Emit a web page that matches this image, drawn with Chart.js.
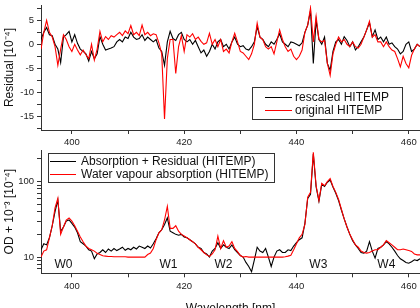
<!DOCTYPE html>
<html>
<head>
<meta charset="utf-8">
<script src="https://cdn.jsdelivr.net/npm/chart.js@4.4.1/dist/chart.umd.min.js"></script>
<style>
  html, body { margin: 0; padding: 0; background: #fff; overflow: hidden; width: 420px; height: 308px; }
  canvas { position: absolute; left: 0; }
  #residualChart { top: 0; }
  #odChart { top: 150px; }
</style>
</head>
<body>
<canvas id="residualChart" width="420" height="150"></canvas>
<canvas id="odChart" width="420" height="170"></canvas>
<script>
// Wavelength grid [nm]
const wavelength = [
  394.5, 395, 395.5, 396, 396.5, 397, 397.5, 398, 398.5, 399,
  399.5, 400, 400.5, 401, 401.5, 402, 402.5, 403, 403.5, 404,
  404.5, 405, 405.5, 406, 406.5, 407, 407.5, 408, 408.5, 409,
  409.5, 410, 410.5, 411, 411.5, 412, 412.5, 413, 413.5, 414,
  414.5, 415, 415.5, 416, 416.5, 417, 417.5, 418, 418.5, 419,
  419.5, 420, 420.5, 421, 421.5, 422, 422.5, 423, 423.5, 424,
  424.5, 425, 425.5, 426, 426.5, 427, 427.5, 428, 428.5, 429,
  429.5, 430, 430.5, 431, 431.5, 432, 432.5, 433, 433.5, 434,
  434.5, 435, 435.5, 436, 436.5, 437, 437.5, 438, 438.5, 439,
  439.5, 440, 440.5, 441, 441.5, 442, 442.5, 443, 443.5, 444,
  444.5, 445, 445.5, 446, 446.5, 447, 447.5, 448, 448.5, 449,
  449.5, 450, 450.5, 451, 451.5, 452, 452.5, 453, 453.5, 454,
  454.5, 455, 455.5, 456, 456.5, 457, 457.5, 458, 458.5, 459,
  459.5, 460, 460.5, 461, 461.5, 462
];

// Residual [1e-4]
const residualRescaled = [
  1.0, 2.5, 3.5, 2.0, 1.8, 0.0, -1.0, -3.8, 1.5, 2.0,
  2.7, 0.5, 2.0, 0.2, -1.0, -1.5, -2.0, -3.5, -1.5, -3.0,
  -2.0, 1.6, 0.0, -1.2, -1.0, -0.8, -0.5, 0.5, 1.0, 0.5,
  1.5, 1.2, 2.5, 1.5, 1.0, 1.2, 2.0, 0.8, 1.5, 1.0,
  0.5, 1.0, -0.8, -1.5, -4.4, 0.5, 2.7, 1.2, 0.8, 2.0,
  2.5, 1.0, 0.5, 1.0, 0.0, 0.8, -0.5, -1.8, -1.2, -2.5,
  -1.5, 0.0, -1.0, 0.5, 1.0, -0.5, 0.0, -1.0, 0.5, 1.5,
  0.0, -0.5, -0.3, -1.0, -1.2, -0.5, 0.5, 3.7, 1.5, 1.0,
  0.0, -0.5, 0.5, 0.0, 1.0, 2.2, 0.5, 0.0, -0.5, 0.5,
  0.3, 0.0, -0.3, 0.3, 2.5, 4.0, 7.0, -4.0, 5.0, 1.0,
  0.0, 1.5, -4.0, -5.4, -1.5, 0.5, 1.0, 0.0, 1.6, 0.8,
  -0.5, 0.5, -1.2, -0.5, 0.5, 1.5, 3.0, 4.5, 1.6, 3.0,
  1.0, 1.5, 0.5, 1.5, 0.0, 0.3, -0.5, -1.0, -2.0, -1.5,
  0.0, 0.5, -1.5, -1.0, 0.0, -0.5
];
const residualOriginal = [
  -1.0, 2.5, 5.0, 2.5, 1.5, -0.5, -4.4, -1.0, 2.0, 1.0,
  -0.5, -1.5, 0.0, -1.2, -2.2, -1.2, -2.2, -3.0, 0.0, -3.3,
  -1.0, 2.7, 0.5, 1.6, 1.0, 1.8, 1.5, 2.0, 2.5, 1.8,
  2.8, 2.2, 3.9, 2.0, 2.5, 1.8, 4.0, 2.0, 2.5, 1.8,
  2.2, 2.0, 0.3, -2.0, -15.6, -3.0, 1.0, 1.0, -6.1, -0.5,
  1.8, -1.5, 2.0, 1.5, 2.2, 1.0, 1.5, 0.6, 0.0, 0.3,
  2.3, 0.0, 1.0, -0.5, 1.0, -1.5, -1.0, -1.8, 0.5, 2.3,
  0.5, -1.5, -1.8, -2.5, -3.2, -2.0, 0.0, 4.4, 1.5, 1.0,
  -0.5, -1.0, -0.5, -2.0, 0.5, 3.0, 1.0, -0.5, -1.5, -1.0,
  -2.5, -3.2, -2.5, -1.2, 2.5, 4.0, 7.6, 0.5, 5.8, 1.0,
  0.5, 0.8, -4.0, -6.5, -2.0, 0.0, 1.5, 0.5, 1.0, 0.0,
  -0.5, 0.5, -0.5, -0.8, 0.0, 1.5, 3.0, 4.8, 1.5, 2.0,
  0.5, 0.5, -0.5, 0.5, -0.5, -1.2, -1.5, -3.0, -4.7, -2.5,
  -4.0, -4.9, -2.3, -1.0, 0.0, -0.5
];

// OD + 1e-3 [1e-4]
const odMeasured = [
  12.5, 15, 14.5, 18, 26, 40, 57, 22, 25, 30,
  31, 28, 25, 21, 16, 15, 14, 12.5, 12, 9.5,
  11, 11.5, 12.5, 11.5, 12.8, 12, 13, 12.2, 12.8, 13.5,
  12.3, 13, 12.5, 13.5, 12.8, 14, 13.5, 13, 14, 13.2,
  15, 17.5, 21, 23, 27, 33, 22, 21, 20, 19.5,
  20, 18.5, 18, 17, 16, 15, 13.5, 13, 11.5, 11,
  10, 12, 13, 15.5, 13, 14.5, 13.5, 13, 14.5, 12.5,
  11.5, 10.5, 10, 8.5, 7.5, 6.4, 9.2, 13.5, 12, 11.5,
  13, 10, 7.5, 10, 12, 12.5, 11.5, 11.5, 12.5, 12.2,
  14, 15.5, 17, 18, 28, 60, 68, 232, 85, 55,
  92, 86, 98, 105, 85, 70, 56, 42, 32, 25,
  20, 16.5, 14.5, 13, 11.5, 11.3, 12, 16, 12, 9.7,
  13, 13.5, 14.5, 16, 15, 13.5, 12, 10.5, 9.5, 9,
  8.5, 8.3, 8.7, 9.2, 9, 9.5
];
const odWater = [
  10, 12, 12.5, 18, 26, 45, 60, 20, 25, 31,
  33, 30, 26, 22, 18.5, 16, 14, 13, 12.5, 12,
  11.2, 10.8, 10.4, 10.3, 10.2, 10.2, 10.1, 10.1, 10.1, 10.1,
  10.1, 10, 10, 10, 10, 10, 10, 10, 10.8, 11.3,
  13, 17, 21, 23, 31, 47, 24, 24, 26, 22,
  20, 19, 18, 17, 16, 15, 13.5, 12.5, 11.5, 10.7,
  10.2, 11, 12.5, 19, 13, 16.5, 13.5, 14, 16, 13,
  11.8, 10.5, 10, 10.2, 10, 10, 10, 10, 10, 10,
  10, 10, 10, 10, 10, 10, 10, 10.1, 10.3, 10.6,
  12.5, 15, 18, 20, 27, 62, 72, 245, 88, 56,
  95, 88, 100, 110, 86, 72, 58, 43, 32, 25,
  20, 17, 14.5, 13.5, 12, 11.5, 11.3, 11.5, 12, 12.5,
  12.5, 13.5, 14.5, 16.6, 15.5, 14.5, 13.5, 12.5, 12.5, 12.8,
  12.5, 12.2, 11.9, 11, 10.7, 10.7
];

// Tick labels and band names
const xTicks = [400, 420, 440, 460];
const residualTicks = [-15, -10, -5, 0, 5];
const odTicks = [10, 100];
const bandNames = ['W0', 'W1', 'W2', 'W3', 'W4'];
const bandCenters = [398.5, 417.2, 427, 443.9, 456];

const FONT = '"Liberation Sans", Arial, Helvetica, sans-serif';
const AXIS = '#333';
const TEXT = '#222';

const toPoints = ys => ys.map((y, i) => ({ x: wavelength[i], y: y }));

// Framed legend like the original figure
const boxLegend = {
    id: 'boxLegend',
    afterDraw(chart, args, o) {
        const ctx = chart.ctx;
        ctx.save();
        ctx.fillStyle = '#fff';
        ctx.fillRect(o.x, o.y, o.w, o.h);
        ctx.strokeStyle = AXIS;
        ctx.lineWidth = 1;
        ctx.strokeRect(o.x + 0.5, o.y + 0.5, o.w, o.h);
        ctx.font = '12px ' + FONT;
        ctx.textBaseline = 'middle';
        chart.data.datasets.forEach((ds, i) => {
            const y = Math.round(o.y + o.rowTop + i * o.rowGap) + 0.5;
            ctx.strokeStyle = ds.borderColor;
            ctx.beginPath();
            ctx.moveTo(o.lineX, y);
            ctx.lineTo(o.lineX + o.lineW, y);
            ctx.stroke();
            ctx.fillStyle = '#111';
            ctx.fillText(ds.label, o.lineX + o.lineW + o.gap, y);
        });
        ctx.restore();
    }
};

// W0..W4 markers along the bottom of the OD panel
const bandLabels = {
    id: 'bandLabels',
    afterDatasetsDraw(chart) {
        const { ctx, chartArea, scales } = chart;
        ctx.save();
        ctx.font = '12px ' + FONT;
        ctx.fillStyle = '#111';
        ctx.textAlign = 'center';
        ctx.textBaseline = 'middle';
        bandNames.forEach((name, i) => {
            ctx.fillText(name, scales.x.getPixelForValue(bandCenters[i]), chartArea.bottom - 8.5);
        });
        ctx.restore();
    }
};

function xScale(height, withTitle) {
    return {
        type: 'linear',
        min: 394.5,
        max: 462,
        afterFit: s => { s.height = height; s.paddingLeft = 0; s.paddingRight = 0; },
        border: { display: true, color: AXIS, width: 1 },
        grid: { drawOnChartArea: false, drawTicks: true, tickLength: 4, color: AXIS },
        ticks: {
            stepSize: 10,
            includeBounds: false,
            autoSkip: false,
            maxRotation: 0,
            padding: 3,
            color: TEXT,
            font: { family: FONT, size: 9.5 },
            callback: v => xTicks.includes(v) ? String(v) : ''
        },
        title: {
            display: withTitle,
            text: 'Wavelength [nm]',
            color: '#111',
            font: { family: FONT, size: 12 },
            padding: { top: 0, bottom: 4 }
        }
    };
}

function yTitle(text) {
    return {
        display: true,
        text: text,
        color: '#111',
        font: { family: FONT, size: 12 },
        padding: { top: 2, bottom: 0 }
    };
}

// y axes get a fixed width and no extra label padding
const fixY = s => { s.width = 41; s.paddingTop = 0; s.paddingBottom = 0; };

// Top panel: residuals
new Chart(document.getElementById('residualChart'), {
    type: 'line',
    data: {
        datasets: [
            { label: 'rescaled HITEMP', data: toPoints(residualRescaled), borderColor: '#000', borderWidth: 1.1, pointRadius: 0, order: 1 },
            { label: 'original HITEMP', data: toPoints(residualOriginal), borderColor: '#f00', borderWidth: 1.1, pointRadius: 0, order: 0 }
        ]
    },
    options: {
        responsive: false,
        animation: false,
        layout: { padding: { top: 5, right: 0, bottom: 0, left: 0 } },
        plugins: {
            legend: { display: false },
            tooltip: { enabled: false },
            boxLegend: { x: 252, y: 87, w: 150, h: 32, rowTop: 9.5, rowGap: 13.3, lineX: 265, lineW: 27, gap: 3 }
        },
        scales: {
            x: xScale(20, false),
            y: {
                min: -17.9,
                max: 8.2,
                afterFit: fixY,
                border: { display: true, color: AXIS, width: 1 },
                grid: { drawOnChartArea: false, drawTicks: true, tickLength: 4, color: AXIS },
                ticks: {
                    stepSize: 2.5,
                    includeBounds: false,
                    autoSkip: false,
                    padding: 3,
                    color: TEXT,
                    font: { family: FONT, size: 9.5 },
                    callback: v => residualTicks.includes(v) ? String(v) : ''
                },
                title: yTitle('Residual [10⁻⁴]')
            }
        }
    },
    plugins: [boxLegend]
});

// Bottom panel: optical density, log scale
new Chart(document.getElementById('odChart'), {
    type: 'line',
    data: {
        datasets: [
            { label: 'Absorption + Residual (HITEMP)', data: toPoints(odMeasured), borderColor: '#000', borderWidth: 1.1, pointRadius: 0, order: 1 },
            { label: 'Water vapour absorption (HITEMP)', data: toPoints(odWater), borderColor: '#f00', borderWidth: 1.1, pointRadius: 0, order: 0 }
        ]
    },
    options: {
        responsive: false,
        animation: false,
        layout: { padding: { top: 0, right: 0, bottom: 0, left: 0 } },
        plugins: {
            legend: { display: false },
            tooltip: { enabled: false },
            boxLegend: { x: 48, y: 3, w: 226, h: 29, rowTop: 8, rowGap: 13, lineX: 50, lineW: 26, gap: 5 }
        },
        scales: {
            x: xScale(46.7, true),
            y: {
                type: 'logarithmic',
                min: 6.1,
                max: 262,
                afterFit: fixY,
                afterBuildTicks: s => {
                    // keep only the 1..9 x 10^n ticks
                    s.ticks = s.ticks.filter(t => {
                        const m = t.value / Math.pow(10, Math.floor(Math.log10(t.value)));
                        return Math.abs(m - Math.round(m)) < 1e-6;
                    });
                },
                border: { display: true, color: AXIS, width: 1 },
                grid: { drawOnChartArea: false, drawTicks: true, tickLength: 4, color: AXIS },
                ticks: {
                    autoSkip: false,
                    padding: 3,
                    color: TEXT,
                    font: { family: FONT, size: 9.5 },
                    callback: v => odTicks.includes(v) ? String(v) : ''
                },
                title: yTitle('OD + 10⁻³ [10⁻⁴]')
            }
        }
    },
    plugins: [boxLegend, bandLabels]
});
</script>
</body>
</html>
